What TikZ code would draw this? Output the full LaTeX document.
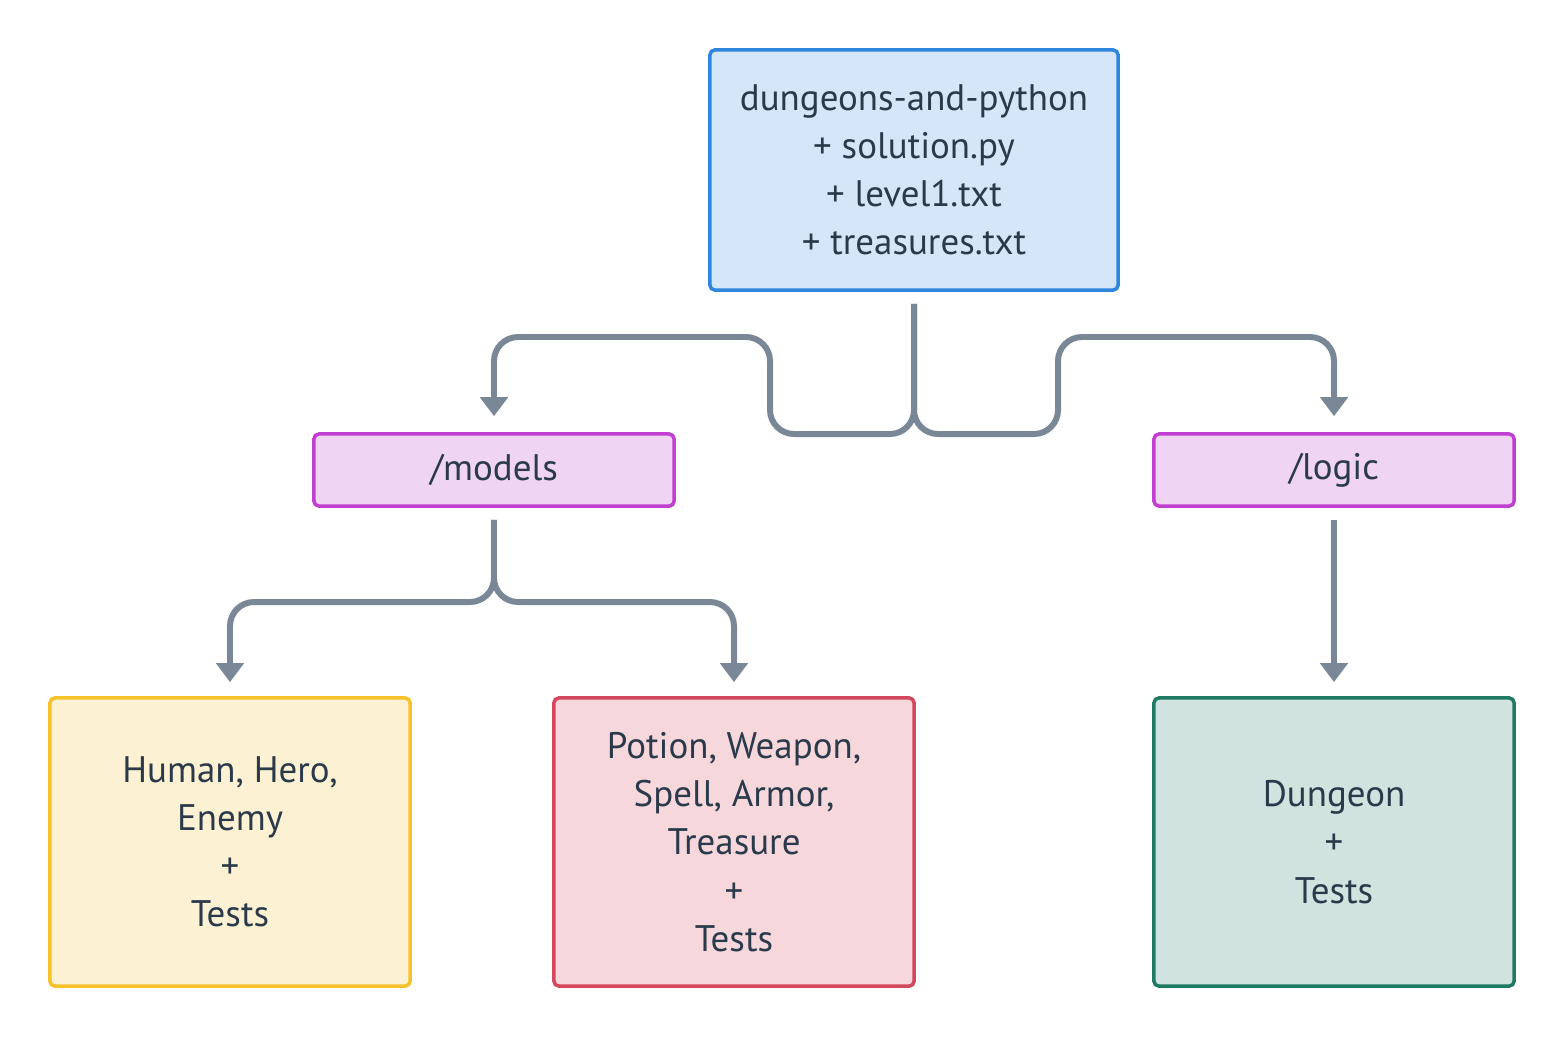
\documentclass[tikz,border=0pt]{standalone}
\usepackage{fontspec}
\setmainfont{PT Sans}
\usetikzlibrary{arrows.meta,positioning}
\definecolor{ink}{HTML}{2A3A4A}
\definecolor{wire}{HTML}{798796}
\definecolor{rootline}{HTML}{2E86DE}
\definecolor{rootfill}{HTML}{D4E6F7}
\definecolor{dirline}{HTML}{C03ED0}
\definecolor{dirfill}{HTML}{F0D4F3}
\definecolor{humanline}{HTML}{F6C22C}
\definecolor{humanfill}{HTML}{FDF1D3}
\definecolor{itemline}{HTML}{D4475C}
\definecolor{itemfill}{HTML}{F6D7DC}
\definecolor{logicline}{HTML}{1E7A62}
\definecolor{logicfill}{HTML}{D1E3DF}
\begin{document}
\begin{tikzpicture}[x=0.01cm,y=-0.01cm,
  font=\fontsize{10.5}{13.7}\selectfont,
  box/.style 2 args={draw=#1,fill=#2,line width=1pt,rounded corners=0.05cm,
    text=ink,align=center,inner sep=0pt},
  dir/.style={box={dirline}{dirfill},minimum width=3.6cm,minimum height=0.72cm},
  leaf/.style={minimum width=3.6cm,minimum height=2.88cm},
  link/.style={draw=wire,line width=1.7pt,rounded corners=0.24cm,
    shorten <=0.12cm,-{Triangle[width=0.27cm,length=0.19cm]}}]
\useasboundingbox (0,0) rectangle (1564,1036);

% project root
\node[box={rootline}{rootfill},minimum width=4.08cm,minimum height=2.4cm]
  (root) at (914,170) {dungeons-and-python\\+ solution.py\\+ level1.txt\\+ treasures.txt};

% sub folders
\node[dir] (models) at (494,470) {/models};
\node[dir] (logic) at (1334,470) {/logic};

% leaves
\node[leaf,box={humanline}{humanfill}] (human) at (230,842) {Human, Hero,\\Enemy\\+\\Tests};
\node[leaf,box={itemline}{itemfill}] (potion) at (734,842) {Potion, Weapon,\\Spell, Armor,\\Treasure\\+\\Tests};
\node[leaf,box={logicline}{logicfill}] (dungeon) at (1334,842) {Dungeon\\+\\Tests};

% brace from the root
\draw[link,shorten >=0.16cm] (root.south) -- (root.south |- 0,434) -- (770,434)
  -- (770,337) -- (models.north |- 0,337) -- (models.north);
\draw[link,shorten >=0.16cm] (root.south) -- (root.south |- 0,434) -- (1058,434)
  -- (1058,337) -- (logic.north |- 0,337) -- (logic.north);

% models split
\draw[link,shorten >=0.14cm] (models.south) -- (models.south |- 0,602)
  -- (human.north |- 0,602) -- (human.north);
\draw[link,shorten >=0.14cm] (models.south) -- (models.south |- 0,602)
  -- (potion.north |- 0,602) -- (potion.north);
\draw[link,shorten >=0.14cm] (logic.south) -- (dungeon.north);
\end{tikzpicture}
\end{document}
